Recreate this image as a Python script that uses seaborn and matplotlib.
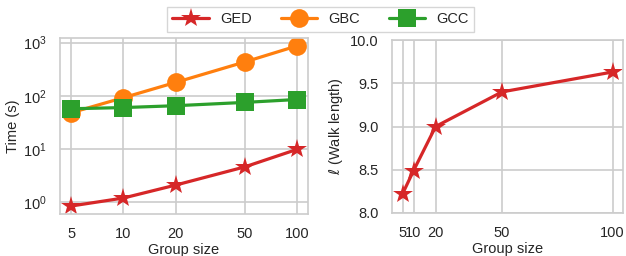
import matplotlib
matplotlib.use('Agg')
import matplotlib.pyplot as plt
import matplotlib.ticker as mticker
import seaborn as sns
import pandas as pd

# data
group_sizes = [5, 10, 20, 50, 100]
time_ged = [0.85, 1.2, 2.1, 4.6, 9.8]
time_gbc = [48, 92, 178, 430, 860]
time_gcc = [57, 60, 65, 75, 85]
walk_length = [8.22, 8.49, 9.0, 9.4, 9.63]

sns.set_theme(style="whitegrid")
plt.rcParams['font.family'] = ['Liberation Sans', 'DejaVu Sans']
plt.rcParams['mathtext.fontset'] = 'dejavusans'

df = pd.DataFrame({
    'size': group_sizes * 3,
    'time': time_ged + time_gbc + time_gcc,
    'method': ['GED'] * 5 + ['GBC'] * 5 + ['GCC'] * 5,
})

colors = {'GED': '#d62728', 'GBC': '#ff7f0e', 'GCC': '#2ca02c'}
markers = {'GED': '*', 'GBC': 'o', 'GCC': 's'}
msize = {'GED': 15, 'GBC': 13.5, 'GCC': 13}

fig = plt.figure(figsize=(6.26, 2.56), dpi=100)
ax1 = fig.add_axes([60 / 626, 1 - 214 / 256, 248 / 626, 176 / 256])
ax2 = fig.add_axes([392 / 626, 1 - 213 / 256, 231 / 626, 173 / 256])

for m in ['GED', 'GBC', 'GCC']:
    sub = df[df['method'] == m]
    sns.lineplot(data=sub, x='size', y='time', ax=ax1, color=colors[m],
                 marker=markers[m], markersize=msize[m], markeredgewidth=0,
                 linewidth=2.3, label=m, legend=False)

ax1.set_xscale('log')
ax1.set_yscale('log')
ax1.xaxis.set_major_locator(mticker.FixedLocator(group_sizes))
ax1.xaxis.set_major_formatter(mticker.FixedFormatter([str(s) for s in group_sizes]))
ax1.xaxis.set_minor_locator(mticker.NullLocator())
ax1.yaxis.set_major_locator(mticker.FixedLocator([1, 10, 100, 1000]))
ax1.yaxis.set_minor_locator(mticker.NullLocator())
ax1.set_xlabel('Group size', fontsize=10.5, labelpad=1)
ax1.set_ylabel('Time (s)', fontsize=10.5, labelpad=2)

sns.lineplot(x=group_sizes, y=walk_length, ax=ax2, color=colors['GED'],
             marker='*', markersize=15, markeredgewidth=0, linewidth=2.3)
ax2.set_xticks(group_sizes)
ax2.set_xticklabels([str(s) for s in group_sizes])
ax2.set_ylim(8.0, 10.0)
ax2.set_yticks([8.0, 8.5, 9.0, 9.5, 10.0])
ax2.yaxis.set_major_formatter(mticker.FormatStrFormatter('%.1f'))
ax2.set_xlabel('Group size', fontsize=10.5, labelpad=1)
ax2.set_ylabel(r'$\ell$ (Walk length)', fontsize=10.5, labelpad=4)

for ax in (ax1, ax2):
    ax.tick_params(labelsize=10.5, pad=3.5)
    ax.grid(True, color='#cccccc', linewidth=1.2)
    for s in ax.spines.values():
        s.set_color('#cccccc')
        s.set_linewidth(1.2)

handles, labels = ax1.get_legend_handles_labels()
fig.legend(handles, labels, loc='upper center', bbox_to_anchor=(0.512, 1.0),
           ncol=3, fontsize=10.5, frameon=True, edgecolor='#cccccc',
           fancybox=False, handlelength=2.5, columnspacing=2.0,
           borderpad=0.35, handletextpad=0.75)

fig.savefig('out.png', dpi=100)
